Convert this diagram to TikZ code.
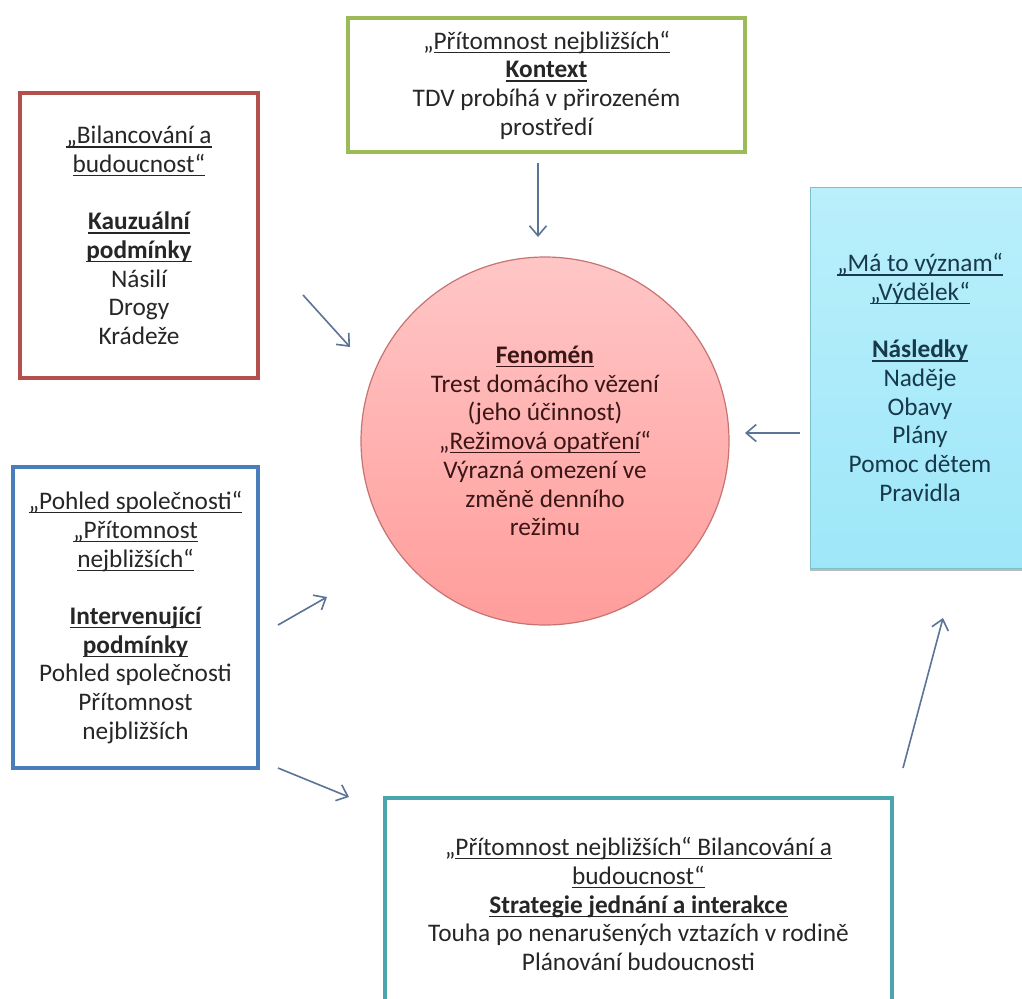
\documentclass[tikz,border=0pt]{standalone}
\usepackage{fontspec}
\setmainfont{Carlito}
\newcommand\myul[1]{\setbox0\hbox{#1}\rlap{\rule[-3.8pt]{\wd0}{1.2pt}}\box0}
\usetikzlibrary{arrows.meta,shadows}
\definecolor{greenc}{HTML}{9BBB59}
\definecolor{redc}{HTML}{B3504D}
\definecolor{bluec}{HTML}{4A7EBB}
\definecolor{tealc}{HTML}{4BA5AC}
\definecolor{cyanb}{HTML}{7DBFCB}
\definecolor{cyantop}{HTML}{BAEFFB}
\definecolor{cyanbot}{HTML}{9EE7F9}
\definecolor{cyantext}{HTML}{17394A}
\definecolor{pinktop}{HTML}{FFC6C6}
\definecolor{pinkbot}{HTML}{FF9D9B}
\definecolor{circb}{HTML}{C57473}
\definecolor{circtext}{HTML}{3A1616}
\definecolor{textgray}{HTML}{262626}
\definecolor{arrowc}{HTML}{5A7397}
\tikzset{
  txt/.style={align=center, font=\fontsize{25.3}{28.7}\selectfont, text=textgray, inner sep=0pt},
  box/.style={txt, draw, line width=4pt, fill=white},
  arr/.style={draw=arrowc, line width=1.6pt, -{Straight Barb[length=10pt,width=17pt]}},
}
\begin{document}
\begin{tikzpicture}[x=1pt,y=-1pt]
\clip (0,0) rectangle (1022,998);
\fill[white] (0,0) rectangle (1022,998);

\node[box, draw=greenc, minimum width=397pt, minimum height=134pt] (ctx) at (546.5,85)
  {„\myul{Přítomnost nejbližších“}\\ \textbf{\myul{Kontext}}\\ TDV probíhá v přirozeném\\ prostředí};

\node[box, draw=redc, minimum width=238pt, minimum height=285pt] (kauz) at (139,235.5)
  {\myul{„Bilancování a}\\ \myul{budoucnost“}\\[28.7pt] \textbf{\myul{Kauzuální}}\\ \textbf{\myul{podmínky}}\\ Násilí\\ Drogy\\ Krádeže};

\node[txt, draw=cyanb, line width=1pt, top color=cyantop, bottom color=cyanbot, text=cyantext,
      minimum width=220pt, minimum height=381pt,
      drop shadow={shadow xshift=0pt, shadow yshift=-3pt, opacity=0.45, fill=black!60}] (nasl) at (920,377.5)
  {\myul{„Má to význam“}\\ \myul{„Výdělek“}\\[28.7pt] \textbf{\myul{Následky}}\\ Naděje\\ Obavy\\ Plány\\ Pomoc dětem\\ Pravidla};

\node[txt, circle, draw=circb, line width=1.2pt, top color=pinktop, bottom color=pinkbot, text=circtext,
      minimum size=368pt] (fen) at (545,441)
  {\textbf{\myul{Fenomén}}\\ Trest domácího vězení\\ (jeho účinnost)\\ „\myul{Režimová opatření}“\\ Výrazná omezení ve\\ změně denního\\ režimu};

\node[box, draw=bluec, minimum width=245pt, minimum height=301pt] (interv) at (135.5,617.5)
  {\myul{„Pohled společnosti“}\\ \myul{„Přítomnost}\\ \myul{nejbližších“}\\[28.7pt] \textbf{\myul{Intervenující}}\\ \textbf{\myul{podmínky}}\\ Pohled společnosti\\ Přítomnost\\ nejbližších};

\node[box, draw=tealc, minimum width=507pt, minimum height=212pt] (strat) at (638.5,904)
  {„\myul{Přítomnost nejbližších“ Bilancování a}\\ \myul{budoucnost“}\\ \textbf{\myul{Strategie jednání a interakce}}\\ Touha po nenarušených vztazích v rodině\\ Plánování budoucnosti};

\coordinate (a1s) at (538,163);  \coordinate (a1e) at (538,237);
\coordinate (a2s) at (303,295);  \coordinate (a2e) at (350,347);
\coordinate (a3s) at (800,433);  \coordinate (a3e) at (745,433);
\coordinate (a4s) at (278,625);  \coordinate (a4e) at (327,597);
\coordinate (a5s) at (278,768);  \coordinate (a5e) at (349,797);
\coordinate (a6s) at (903,768);  \coordinate (a6e) at (943,618);

\draw[arr] (a1s) -- (a1e);
\draw[arr] (a2s) -- (a2e);
\draw[arr] (a3s) -- (a3e);
\draw[arr] (a4s) -- (a4e);
\draw[arr] (a5s) -- (a5e);
\draw[arr] (a6s) -- (a6e);
\end{tikzpicture}
\end{document}
